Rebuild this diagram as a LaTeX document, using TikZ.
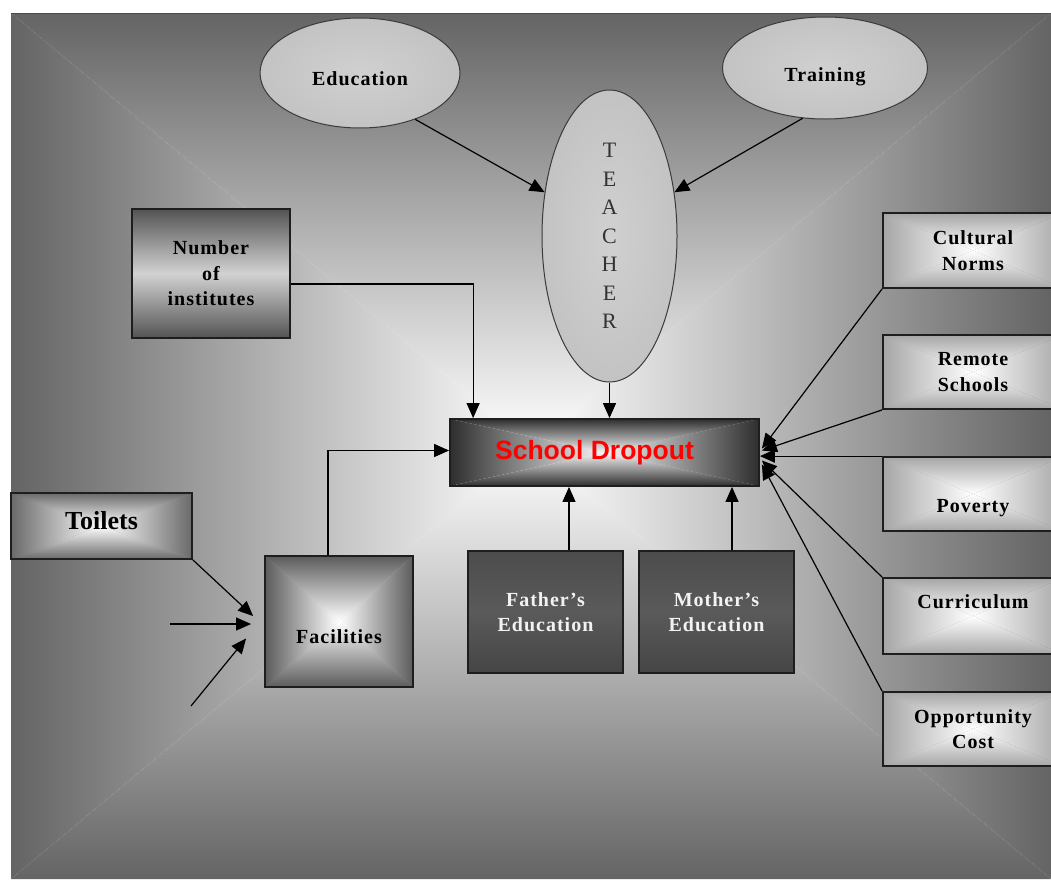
\documentclass[tikz,border=0pt]{standalone}
\usepackage{fontspec}
\setmainfont{Liberation Serif}
\newfontfamily\lblfont[LetterSpace=5]{Liberation Serif}
\newfontfamily\sdfont{Liberation Sans}
\usetikzlibrary{arrows.meta,shapes.geometric,calc}
\definecolor{bgedge}{HTML}{646464}
\definecolor{toiletedge}{HTML}{6A6A6A}
\definecolor{facedge}{HTML}{5C5C5C}
\definecolor{sdedge}{HTML}{2E2E2E}
\definecolor{sdcenter}{HTML}{F6F6F6}
\definecolor{rightedge}{HTML}{A6A6A6}
\definecolor{boxline}{HTML}{1E1E1E}
\definecolor{nbdark}{HTML}{535353}
\definecolor{nblight}{HTML}{D2D2D2}
\definecolor{edutop}{HTML}{4C4C4C}
\definecolor{edumid}{HTML}{5A5A5A}
\definecolor{edubot}{HTML}{454545}
\definecolor{ellin}{HTML}{D0D0D0}
\definecolor{ellout}{HTML}{C3C3C3}
\definecolor{ellline}{HTML}{3A3A3A}
% rectangle gradient from centre: x1,y1 (top left), x2,y2 (bottom right), inner, outer
\newcommand\boxshade[6]{%
  \shade[top color=#6,bottom color=#5] (#1,#2) -- (#3,#2) -- ({(#1+#3)/2},{(#2+#4)/2}) -- cycle;
  \shade[top color=#5,bottom color=#6] (#1,#4) -- (#3,#4) -- ({(#1+#3)/2},{(#2+#4)/2}) -- cycle;
  \shade[left color=#6,right color=#5] (#1,#2) -- (#1,#4) -- ({(#1+#3)/2},{(#2+#4)/2}) -- cycle;
  \shade[left color=#5,right color=#6] (#3,#2) -- (#3,#4) -- ({(#1+#3)/2},{(#2+#4)/2}) -- cycle;
}
\tikzset{
  bx/.style={rectangle, draw=boxline, line width=1.8pt, inner sep=0pt, align=center},
  lbl/.style={font=\lblfont\fontsize{20}{25.5}\selectfont\bfseries},
  ell/.style={ellipse, draw=ellline, line width=1pt, inner sep=0pt, inner color=ellin, outer color=ellout},
  arr/.style={line width=1.2pt, -{Triangle[length=15pt,width=13pt]}},
  rbox/.style={bx, lbl, minimum width=180pt},
}
\begin{document}
\begin{tikzpicture}[x=1pt,y=-1pt]
\path[use as bounding box] (0,0) rectangle (1051,879);
\clip (0,0) rectangle (1051,879);
\fill[white] (0,0) rectangle (1051,879);
% background
\boxshade{11}{13}{1051}{879}{white}{bgedge}
\draw[black!70, line width=0.8pt] (11,13) -- (1051,13);

% box fills
\boxshade{450}{419}{759}{486}{sdcenter}{sdedge}
\shade[top color=nbdark, bottom color=nbdark, middle color=nblight] (132,209) rectangle (290,338);
\boxshade{11}{493}{192}{559}{white}{toiletedge}
\boxshade{265}{556}{413}{687}{white}{facedge}
\shade[top color=edutop, bottom color=edubot, middle color=edumid] (468,551) rectangle (623,673);
\shade[top color=edutop, bottom color=edubot, middle color=edumid] (639,551) rectangle (794,673);
\boxshade{883}{213}{1063}{288}{white}{rightedge}
\boxshade{883}{335}{1063}{409}{white}{rightedge}
\boxshade{883}{457}{1063}{531}{white}{rightedge}
\boxshade{883}{578}{1063}{654}{white}{rightedge}
\boxshade{883}{692}{1063}{766}{white}{rightedge}

% ellipses
\node[ell, lbl, minimum width=200pt, minimum height=110pt, text height=24pt, text depth=0pt] (ed) at (360,73) {Education};
\node[ell, lbl, minimum width=205pt, minimum height=102pt, text height=30pt, text depth=4pt] (tr) at (825,68) {Training};
\node[ell, minimum width=135pt, minimum height=292pt, align=center, text=black!80,
      font=\fontsize{22}{28.5}\selectfont] (te) at (609.5,236) {T\\E\\A\\C\\H\\E\\R};

% central box
\node[bx, minimum width=309pt, minimum height=67pt,
      text=red, font=\sdfont\fontsize{26.5}{30}\selectfont\bfseries] (sd) at (604.5,452.5) {School Dropout\hspace*{20pt}};

% left boxes
\node[bx, lbl, minimum width=158pt, minimum height=129pt] (nb) at (211,273.5) {Number\\of\\institutes};
\node[bx, minimum width=181pt, minimum height=66pt,
      font=\fontsize{26}{30}\selectfont\bfseries, text depth=12pt] (to) at (101.5,526) {Toilets};
\node[bx, lbl, minimum width=148pt, minimum height=131pt,
      text height=45pt, text depth=2pt] (fac) at (339,621.5) {Facilities};

% bottom boxes
\node[bx, lbl, text=white!95!black, minimum width=155pt, minimum height=122pt] (fa) at (545.5,612) {Father’s\\Education};
\node[bx, lbl, text=white!95!black, minimum width=155pt, minimum height=122pt] (mo) at (716.5,612) {Mother’s\\Education};

% right boxes
\node[rbox, minimum height=75pt] (cn) at (973,250.5) {Cultural\\Norms};
\node[rbox, minimum height=74pt] (rs) at (973,372) {Remote\\Schools};
\node[rbox, minimum height=74pt, text height=40pt, text depth=4pt] (pv) at (973,494) {Poverty};
\node[rbox, minimum height=76pt, text height=4pt, text depth=20pt] (cu) at (973,616) {Curriculum};
\node[rbox, minimum height=74pt] (oc) at (973,729) {Opportunity\\Cost};

% free ends
\coordinate (h1) at (170,624);
\coordinate (h2) at (191,706);
\coordinate (nbout) at ($(nb.east)+(0,10.5)$);
\coordinate (sdin1) at ($(sd.north west)+(24,0)$);
\coordinate (facout) at ($(fac.north)+(-11,0)$);
\coordinate (faout) at ($(fa.north)+(23.5,0)$);
\coordinate (moout) at ($(mo.north)+(15.5,0)$);

% connectors
\draw[arr] (ed.-40) -- (te.146);
\draw[arr] (tr.246) -- (te.34);
\draw[arr] (te.south) -- (te.south |- sd.north);
\draw[arr] (nbout) -| (sdin1);
\draw[arr] (facout) |- ($(sd.west)+(0,-2)$);
\draw[arr] (to.south east) -- ($(fac.west)+(-11,-5.5)$);
\draw[arr] (h1) -- ($(fac.west)+(-13,2.5)$);
\draw[arr] (h2) -- ($(fac.west)+(-18,17)$);
\draw[arr] (faout) -- (faout |- sd.south);
\draw[arr] (moout) -- (moout |- sd.south);
\draw[arr] (cn.south west) -- ($(sd.east)+(2,-4)$);
\draw[arr] (rs.south west) -- ($(sd.east)+(2,-2)$);
\draw[arr] (pv.north west) -- (pv.north west -| sd.east);
\draw[arr] (cu.north west) -- ($(sd.east)+(2,8)$);
\draw[arr] (oc.north west) -- ($(sd.east)+(2,12)$);
\end{tikzpicture}
\end{document}
